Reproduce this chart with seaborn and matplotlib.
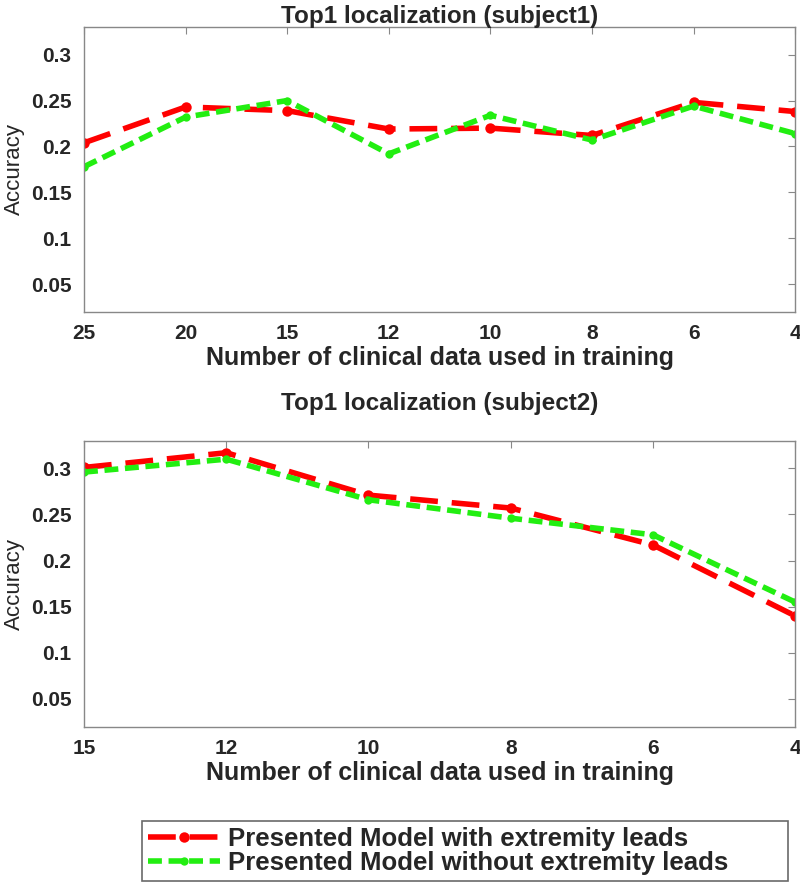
import matplotlib
matplotlib.use("Agg")
import matplotlib.pyplot as plt
import seaborn as sns
import pandas as pd

# data
x1 = ["25", "20", "15", "12", "10", "8", "6", "4"]
red1 = [0.204, 0.243, 0.239, 0.219, 0.220, 0.212, 0.248, 0.238]
green1 = [0.178, 0.232, 0.250, 0.192, 0.234, 0.207, 0.244, 0.214]

x2 = ["15", "12", "10", "8", "6", "4"]
red2 = [0.301, 0.317, 0.271, 0.257, 0.217, 0.140]
green2 = [0.296, 0.310, 0.266, 0.246, 0.228, 0.155]

yticks = [0.05, 0.1, 0.15, 0.2, 0.25, 0.3]
ylabels = ["0.05", "0.1", "0.15", "0.2", "0.25", "0.3"]
titles = ["Top1 localization (subject1)", "Top1 localization (subject2)"]
names = ["Presented Model with extremity leads", "Presented Model without extremity leads"]

sns.set_style("white")
plt.rcParams["font.family"] = ["Liberation Sans", "DejaVu Sans"]

fig = plt.figure(figsize=(8, 8.85), dpi=100)
ax1 = fig.add_axes([0.105, 0.6475, 0.889, 0.322])
ax2 = fig.add_axes([0.105, 0.179, 0.889, 0.323])

red = "#ff0000"
green = "#22ee11"

for ax, xs, r, g, t, tpad in [(ax1, x1, red1, green1, titles[0], 3),
                              (ax2, x2, red2, green2, titles[1], 22)]:
    df = pd.DataFrame({"n": xs, "r": r, "g": g})
    sns.lineplot(data=df, x="n", y="r", ax=ax, color=red, lw=4,
                 linestyle=(0, (5, 2.5)), marker="o", markersize=7.5,
                 markeredgewidth=0, label=names[0], sort=False)
    sns.lineplot(data=df, x="n", y="g", ax=ax, color=green, lw=4,
                 linestyle=(0, (2.5, 1.2)), marker="o", markersize=6,
                 markeredgewidth=0, label=names[1], sort=False)
    ax.set_xlim(0, len(xs) - 1)
    ax.set_ylim(0.02, 0.33)
    ax.set_yticks(yticks)
    ax.set_yticklabels(ylabels)
    ax.set_title(t, fontsize=17.5, fontweight="bold", pad=tpad)
    ax.set_xlabel("Number of clinical data used in training", fontsize=18,
                  fontweight="bold", labelpad=2)
    ax.set_ylabel("Accuracy", fontsize=16, labelpad=4)
    ax.tick_params(direction="in", length=5, color="#888888", top=True, right=True,
                   labelsize=15, pad=9)
    for lab in ax.get_xticklabels() + ax.get_yticklabels():
        lab.set_fontweight("bold")
    for s in ax.spines.values():
        s.set_color("#888888")
        s.set_linewidth(1)
    ax.get_legend().remove()

handles, labels = ax1.get_legend_handles_labels()
leg = fig.legend(handles, labels, loc="lower left", bbox_to_anchor=(0.1775, 0.004, 0.807, 0.075),
                 mode="expand", frameon=True, fancybox=False, edgecolor="#444444",
                 prop={"weight": "bold", "size": 18.5}, handlelength=2.8,
                 borderaxespad=0, labelspacing=0.0, handletextpad=0.3, borderpad=0.25)
leg.get_frame().set_linewidth(1.2)

fig.savefig("out.png", dpi=100)
